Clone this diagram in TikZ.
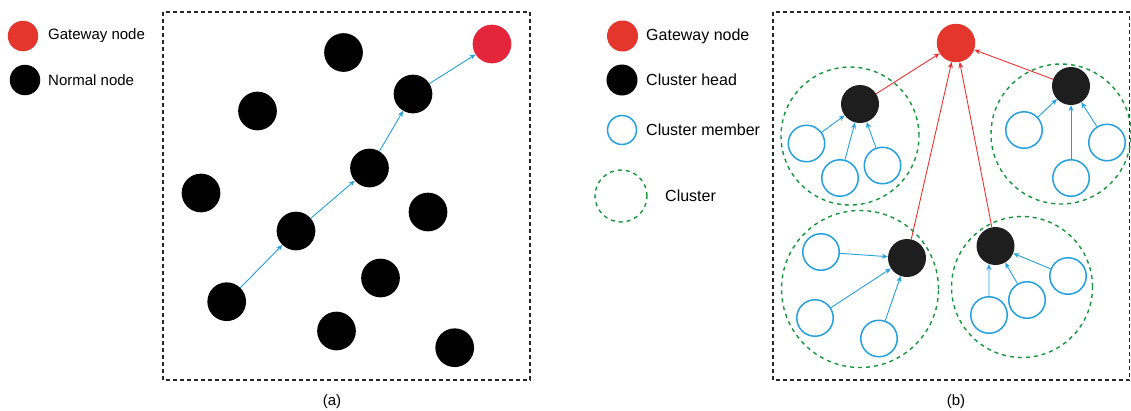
\documentclass[tikz,border=0pt]{standalone}
\usepackage{fontspec}
\setmainfont{Liberation Sans}
\usetikzlibrary{arrows.meta}
\definecolor{gwred}{RGB}{229,54,45}
\definecolor{gwredb}{RGB}{228,38,60}
\definecolor{chblack}{RGB}{30,30,30}
\definecolor{mblue}{RGB}{36,160,222}
\definecolor{cgreen}{RGB}{20,150,60}
\definecolor{arrred}{RGB}{232,50,50}
\tikzset{
  gw/.style={circle,fill=gwred,minimum size=38.5pt,inner sep=0pt},
  gwb/.style={circle,fill=gwredb,minimum size=38.7pt,inner sep=0pt},
  nn/.style={circle,fill=black,minimum size=38.7pt,inner sep=0pt},
  ch/.style={circle,fill=chblack,minimum size=38pt,inner sep=0pt},
  mem/.style={circle,draw=mblue,line width=1.5pt,minimum size=36.5pt,inner sep=0pt},
  clus/.style={circle,draw=cgreen,line width=1.4pt,dash pattern=on 4pt off 4pt,inner sep=0pt},
  frame/.style={draw=black!85,line width=1.4pt,dash pattern=on 4pt off 3pt},
  blarrow/.style={draw=mblue,line width=0.9pt,-{Stealth[length=6pt,width=5pt]}},
  rdarrow/.style={draw=arrred,line width=0.9pt,-{Stealth[length=6pt,width=5pt]}},
  lbl/.style={anchor=west,inner sep=0pt,font=\fontsize{15}{18}\selectfont},
  lblb/.style={anchor=west,inner sep=0pt,font=\fontsize{16}{19}\selectfont},
  captxt/.style={inner sep=0pt,font=\fontsize{15}{18}\selectfont}
}
\begin{document}
\begin{tikzpicture}[x=1pt,y=-1pt]
\useasboundingbox (0,0) rectangle (1131,410);
% ---------- panel (a) ----------
\draw[frame] (163,12) rectangle (530,380);
\node[gw,minimum size=30.5pt] (lga) at (23,36) {};
\node[lbl] (lgat) at (48,36) {Gateway node};
\node[nn,minimum size=30.5pt] (lnn) at (25,80) {};
\node[lbl] (lnnt) at (48,80) {Normal node};

\node[nn] (a1) at (343.5,52.5) {};
\node[nn] (a2) at (257.5,111) {};
\node[nn] (a3) at (201,193) {};
\node[nn] (a4) at (296,231) {};
\node[nn] (a5) at (369.5,168) {};
\node[nn] (a6) at (413,94) {};
\node[gwb] (a7) at (492,44) {};
\node[nn] (a8) at (428,212) {};
\node[nn] (a9) at (380.5,278) {};
\node[nn] (a10) at (226.7,301.7) {};
\node[nn] (a11) at (336.5,331) {};
\node[nn] (a12) at (454.7,347.7) {};
\draw[blarrow] (a10) -- (a4);
\draw[blarrow] (a4) -- (a5);
\draw[blarrow] (a5) -- (a6);
\draw[blarrow] (a6) -- (a7);
\node[captxt] (capa) at (332,402) {(a)};

% ---------- panel (b) ----------
\draw[frame] (773,12) rectangle (1129.5,380);
\node[gw,minimum size=31pt] (lgb) at (622.5,36) {};
\node[lblb] (lgbt) at (646,36) {Gateway node};
\node[ch,minimum size=31pt,fill=black] (lch) at (622,80) {};
\node[lblb] (lcht) at (646,80) {Cluster head};
\node[mem,minimum size=29pt] (lmem) at (622,130) {};
\node[lblb] (lmemt) at (646,130) {Cluster member};
\node[clus,minimum size=52pt] (lcl) at (621,196) {};
\node[lblb] (lclt) at (665,196) {Cluster};

\node[clus,minimum size=138pt] (c1) at (850,136) {};
\node[clus,minimum size=140pt] (c2) at (1061,134) {};
\node[clus,minimum size=157pt] (c3) at (860,289) {};
\node[clus,minimum size=141pt] (c4) at (1022,287) {};

\node[gw] (g) at (956,43) {};
\node[ch] (h1) at (860,104) {};
\node[ch] (h2) at (1071,86) {};
\node[ch] (h3) at (907,258) {};
\node[ch] (h4) at (995.5,246) {};

\node[mem] (m1a) at (806.5,143.5) {};
\node[mem] (m1b) at (840,178) {};
\node[mem] (m1c) at (882.5,165.5) {};
\node[mem] (m2a) at (1024,130) {};
\node[mem] (m2b) at (1107,142.5) {};
\node[mem] (m2c) at (1071,178) {};
\node[mem] (m3a) at (821,252) {};
\node[mem] (m3b) at (815,318) {};
\node[mem] (m3c) at (879,338.5) {};
\node[mem] (m4a) at (1068,276) {};
\node[mem] (m4b) at (1027,300) {};
\node[mem] (m4c) at (989,315) {};

\draw[blarrow] (m1a) -- (h1);
\draw[blarrow] (m1b) -- (h1);
\draw[blarrow] (m1c) -- (h1);
\draw[blarrow] (m2a) -- (h2);
\draw[blarrow] (m2b) -- (h2);
\draw[blarrow] (m2c) -- (h2);
\draw[blarrow] (m3a) -- (h3);
\draw[blarrow] (m3b) -- (h3);
\draw[blarrow] (m3c) -- (h3);
\draw[blarrow] (m4a) -- (h4);
\draw[blarrow] (m4b) -- (h4);
\draw[blarrow] (m4c.north) -- (h4.-110);

\draw[rdarrow] (h1) -- (g);
\draw[rdarrow] (h2) -- (g);
\draw[rdarrow] (h3) -- (g);
\draw[rdarrow] (h4) -- (g);
\node[captxt] (capb) at (956,402) {(b)};
\end{tikzpicture}
\end{document}
